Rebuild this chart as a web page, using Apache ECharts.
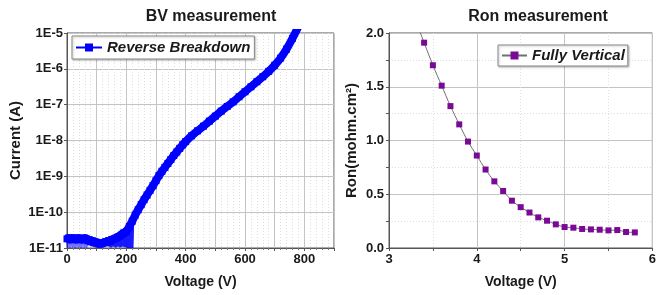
<!DOCTYPE html>
<html><head><meta charset="utf-8">
<script src="https://cdn.jsdelivr.net/npm/echarts@6/dist/echarts.min.js"></script>
<style>html,body{margin:0;padding:0;background:#fff}#c{width:659px;height:295px}</style>
</head><body><div id="c"></div>
<script>
// ---- Left chart: BV measurement ----
const bvVoltage = [0,5,10,15,20,25,30,35,40,45,50,55,60,65,70,75,80,85,90,95,100,105,110,115,120,125,130,135,140,145,150,155,160,165,170,175,180,185,190,195,
  200,210,220,230,240,250,260,270,280,290,300,310,320,330,340,350,360,370,380,390,400,
  420,440,460,480,500,520,540,560,580,600,620,640,660,680,700,720,740,760,780];
const bvCurrent = [1.8e-11,1.9e-11,1.7e-11,1.9e-11,1.8e-11,1.9e-11,1.7e-11,1.8e-11,1.9e-11,1.8e-11,1.7e-11,1.8e-11,1.9e-11,1.8e-11,1.6e-11,1.7e-11,1.5e-11,1.6e-11,1.4e-11,1.5e-11,
  1.4e-11,1.3e-11,1.4e-11,1.3e-11,1.35e-11,1.4e-11,1.5e-11,1.45e-11,1.6e-11,1.55e-11,1.7e-11,1.75e-11,1.8e-11,1.9e-11,2.0e-11,2.1e-11,2.2e-11,2.4e-11,2.6e-11,2.7e-11,
  2.9e-11,3.98e-11,5.62e-11,8.32e-11,1.17e-10,1.62e-10,2.24e-10,3.02e-10,4.07e-10,5.5e-10,7.59e-10,1.05e-9,1.38e-9,1.78e-9,2.29e-9,2.95e-9,3.8e-9,4.79e-9,6.03e-9,7.59e-9,9.33e-9,
  1.35e-8,1.86e-8,2.51e-8,3.47e-8,4.79e-8,6.61e-8,8.91e-8,1.2e-7,1.66e-7,2.29e-7,3.16e-7,4.37e-7,6.03e-7,8.51e-7,1.26e-6,2.0e-6,3.55e-6,7.08e-6,1.51e-5];
// low-current noise streaks
const noiseV1 = [0,2,4,6,8,10,12,14,16,18,20,22,24,26,28,30,32,34,36,38,40,42,44,46,48,50,52,54,56,58,60,62,64,66,68,70];
const noiseI1 = [1.7e-11,1.0e-11,1.6e-11,1.05e-11,1.7e-11,1.0e-11,1.5e-11,1.1e-11,1.7e-11,1.0e-11,1.6e-11,1.05e-11,1.7e-11,1.0e-11,1.5e-11,1.0e-11,1.6e-11,1.1e-11,
  1.7e-11,1.0e-11,1.6e-11,1.05e-11,1.5e-11,1.0e-11,1.7e-11,1.0e-11,1.6e-11,1.1e-11,1.5e-11,1.0e-11,1.6e-11,1.05e-11,1.5e-11,1.0e-11,1.6e-11,1.1e-11];
const noiseV2 = [140,144,148,152,156,160,164,168,172,176,180,184,188,192,196,200,204,208,212,214,216,218,220,222];
const noiseI2 = [1.1e-11,1.5e-11,1.05e-11,1.6e-11,1.1e-11,1.7e-11,1.05e-11,1.8e-11,1.1e-11,2.0e-11,1.05e-11,2.2e-11,1.1e-11,2.4e-11,1.05e-11,2.6e-11,1.0e-11,3.0e-11,1.0e-11,5.0e-11,1.0e-11,6.0e-11,1.0e-11,4.0e-11];
const bvXTicks = [0,200,400,600,800];
const bvDecades = [-11,-10,-9,-8,-7,-6,-5];
const bvMinorMult = [2,3,4,5,6,7,8,9];

// ---- Right chart: Ron measurement ----
const ronVoltage = [3.4,3.5,3.6,3.7,3.8,3.9,4.0,4.1,4.2,4.3,4.4,4.5,4.6,4.7,4.8,4.9,5.0,5.1,5.2,5.3,5.4,5.5,5.6,5.7,5.8];
const ronValue = [1.91,1.70,1.51,1.32,1.15,0.99,0.86,0.73,0.62,0.53,0.44,0.38,0.33,0.285,0.254,0.22,0.195,0.189,0.177,0.173,0.17,0.164,0.167,0.149,0.145];
const ronLeadV = [3.3];
const ronLead = [2.12];

const FONT = '"Liberation Sans", Arial, sans-serif';
const txt = '#1a1a1a';
const majorGrid = {show:true, lineStyle:{color:'#c4c4c4', width:1, type:'solid'}};
const minorGrid = {show:true, lineStyle:{color:'#dedede', width:1, type:[1,2]}};
const labelStyle = {color:txt, fontFamily:FONT, fontWeight:'bold', fontSize:13};
const nameStyleX = {color:txt, fontFamily:FONT, fontWeight:'bold', fontSize:14};
const nameStyleY = {color:txt, fontFamily:FONT, fontWeight:'bold', fontSize:15};

const minorLogLines = [];
bvDecades.slice(0,-1).forEach(d => bvMinorMult.forEach(m => minorLogLines.push({yAxis: m*Math.pow(10,d)})));

const chart = echarts.init(document.getElementById('c'), null, {renderer:'canvas'});
chart.setOption({
  animation:false,
  backgroundColor:'#fff',
  title:[
    {text:'BV measurement', left:206, top:4, textAlign:'center', textStyle:{fontFamily:FONT, fontWeight:'bold', fontSize:16, color:txt}},
    {text:'Ron measurement', left:533, top:4, textAlign:'center', textStyle:{fontFamily:FONT, fontWeight:'bold', fontSize:16, color:txt}}
  ],
  legend:[
    {data:['Reverse Breakdown'], left:72, top:36, itemWidth:26, itemHeight:10, itemGap:4, padding:[4,4,4,3],
     borderColor:'#8a8a8a', borderWidth:1, backgroundColor:'#fff',
     shadowColor:'rgba(0,0,0,0.25)', shadowBlur:2, shadowOffsetX:1, shadowOffsetY:1,
     textStyle:{fontFamily:FONT, fontWeight:'bold', fontStyle:'italic', fontSize:15, color:txt}},
    {data:['Fully Vertical'], left:498, top:45, itemWidth:25, itemHeight:10, padding:[3,3,3,3],
     borderColor:'#8a8a8a', borderWidth:1, backgroundColor:'#fff',
     shadowColor:'rgba(0,0,0,0.25)', shadowBlur:2, shadowOffsetX:1, shadowOffsetY:1,
     textStyle:{fontFamily:FONT, fontWeight:'bold', fontStyle:'italic', fontSize:15, color:txt}}
  ],
  grid:[
    {left:67, top:33, width:267, height:215, show:true, borderColor:'#555', borderWidth:1, backgroundColor:'transparent', containLabel:false},
    {left:389, top:33, width:266, height:215, show:true, borderColor:'#555', borderWidth:1, backgroundColor:'transparent', containLabel:false}
  ],
  xAxis:[
    {gridIndex:0, type:'value', min:0, max:900, interval:100,
     name:'Voltage (V)', nameLocation:'middle', nameGap:27, nameTextStyle:nameStyleX,
     axisLine:{show:true, lineStyle:{color:'#555'}},
     axisTick:{show:true, length:3, lineStyle:{color:'#555'}},
     minorTick:{show:true, splitNumber:5, length:2, lineStyle:{color:'#777'}},
     axisLabel:Object.assign({margin:5, formatter:v => bvXTicks.indexOf(v) >= 0 ? String(v) : ''}, labelStyle),
     splitLine:majorGrid, minorSplitLine:minorGrid},
    {gridIndex:1, type:'value', min:3, max:6, interval:1,
     name:'Voltage (V)', nameLocation:'middle', nameGap:27, nameTextStyle:nameStyleX,
     axisLine:{show:true, lineStyle:{color:'#555'}},
     axisTick:{show:true, length:3, lineStyle:{color:'#555'}},
     minorTick:{show:true, splitNumber:2, length:3, lineStyle:{color:'#555'}},
     axisLabel:Object.assign({margin:5, formatter:v => String(v)}, labelStyle),
     splitLine:majorGrid, minorSplitLine:minorGrid}
  ],
  yAxis:[
    {gridIndex:0, type:'log', logBase:10, min:1e-11, max:1e-5, splitNumber:6,
     name:'Current (A)', nameLocation:'middle', nameGap:44, nameTextStyle:nameStyleY,
     axisLine:{show:true, lineStyle:{color:'#555'}},
     axisTick:{show:true, length:3, lineStyle:{color:'#555'}},
     axisLabel:Object.assign({margin:4, formatter:v => '1E' + Math.round(Math.log10(v))}, labelStyle),
     splitLine:majorGrid},
    {gridIndex:1, type:'value', min:0, max:2, interval:0.5,
     name:'Ron(mohm.cm²)', nameLocation:'middle', nameGap:30, nameTextStyle:nameStyleY,
     axisLine:{show:true, lineStyle:{color:'#555'}},
     axisTick:{show:true, length:3, lineStyle:{color:'#555'}},
     minorTick:{show:true, splitNumber:2, length:3, lineStyle:{color:'#555'}},
     axisLabel:Object.assign({margin:5, formatter:v => v.toFixed(1)}, labelStyle),
     splitLine:majorGrid, minorSplitLine:minorGrid}
  ],
  series:[
    {name:'noise1', type:'line', xAxisIndex:0, yAxisIndex:0, showSymbol:false, silent:true,
     lineStyle:{color:'#0000ff', width:1.5, opacity:0.55},
     data:noiseV1.map((v,i)=>[v, noiseI1[i]]), z:2,
     markLine:{silent:true, symbol:'none', label:{show:false}, animation:false,
       lineStyle:{color:'#dcdcdc', width:1, type:[1,2]}, data:minorLogLines}},
    {name:'noise2', type:'line', xAxisIndex:0, yAxisIndex:0, showSymbol:false, silent:true,
     lineStyle:{color:'#0000ff', width:2.5, opacity:0.9},
     data:noiseV2.map((v,i)=>[v, noiseI2[i]]), z:3},
    {name:'Reverse Breakdown', type:'line', xAxisIndex:0, yAxisIndex:0,
     symbol:'square', symbolSize:7, showAllSymbol:true, smooth:0.25,
     itemStyle:{color:'#0000ff'}, lineStyle:{color:'#0000ff', width:8},
     data:bvVoltage.map((v,i)=>[v, bvCurrent[i]]), z:4},
    {name:'Fully Vertical', type:'line', xAxisIndex:1, yAxisIndex:1, smooth:0.3,
     symbol:'square', symbolSize:6,
     itemStyle:{color:'#7a0a96'}, lineStyle:{color:'#707070', width:1},
     data: ronLeadV.map((v,i)=>({value:[v, ronLead[i]], symbol:'none'}))
           .concat(ronVoltage.map((v,i)=>[v, ronValue[i]])), z:4}
  ]
});
</script>
</body></html>
